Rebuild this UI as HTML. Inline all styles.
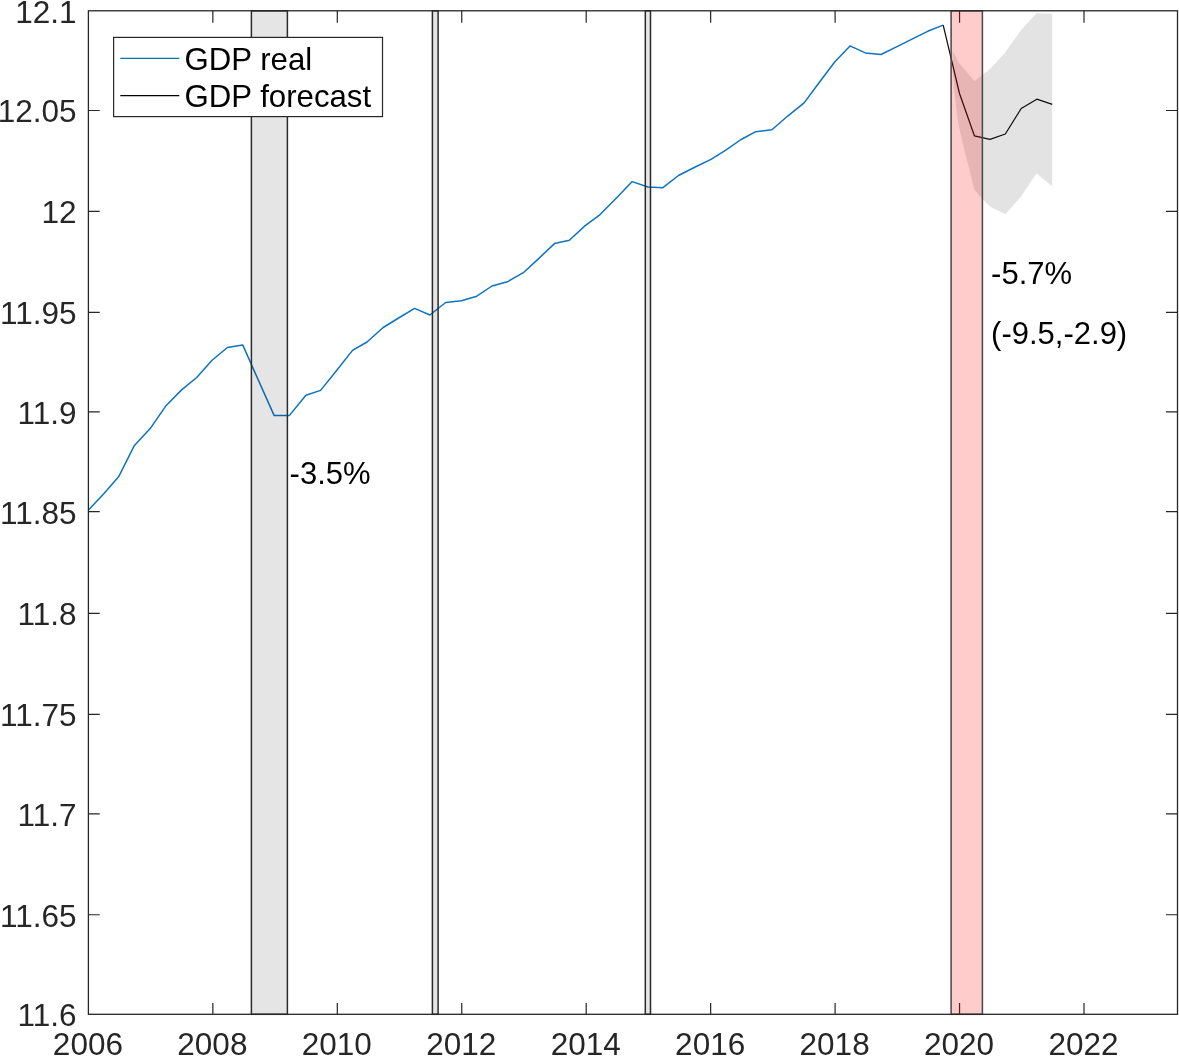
<!DOCTYPE html>
<html><head><meta charset="utf-8"><title>GDP forecast</title>
<style>
html,body{margin:0;padding:0;background:#fff;}
body{width:1179px;height:1057px;overflow:hidden;}
svg{display:block;}
text{font-family:"Liberation Sans",Arial,sans-serif;}
</style></head><body>
<svg width="1179" height="1057" viewBox="0 0 1179 1057">
<rect width="1179" height="1057" fill="#fff"/>
<path d="M88.4 110.50H99.7M1177.5 110.50H1165.9M88.4 211.45H99.7M1177.5 211.45H1165.9M88.4 312.40H99.7M1177.5 312.40H1165.9M88.4 411.90H99.7M1177.5 411.90H1165.9M88.4 511.60H99.7M1177.5 511.60H1165.9M88.4 613.30H99.7M1177.5 613.30H1165.9M88.4 714.30H99.7M1177.5 714.30H1165.9M88.4 813.80H99.7M1177.5 813.80H1165.9M88.4 914.76H99.7M1177.5 914.76H1165.9M212.85 1014.3V1002.9M212.85 10.8V22.7M337.30 1014.3V1002.9M337.30 10.8V22.7M461.75 1014.3V1002.9M461.75 10.8V22.7M586.20 1014.3V1002.9M586.20 10.8V22.7M710.65 1014.3V1002.9M710.65 10.8V22.7M835.10 1014.3V1002.9M835.10 10.8V22.7M959.55 1014.3V1002.9M959.55 10.8V22.7M1084.00 1014.3V1002.9M1084.00 10.8V22.7" stroke="#262626" stroke-width="1.2" fill="none"/>
<polyline points="88.3,510.2 104.0,493.5 118.6,476.8 134.4,445.4 150.2,428.6 165.5,406.3 181.6,389.9 196.7,377.5 211.8,360.5 227.4,347.5 242.7,344.9 258.3,380.0 274.2,415.6 289.3,415.6 305.9,395.3 320.6,390.4 336.0,371.3 352.5,350.4 367.0,342.0 383.2,327.5 398.6,318.0 414.6,308.4 429.9,315.0 445.7,302.5 461.5,300.7 476.8,296.2 492.0,286.0 507.4,281.8 523.3,272.7 538.6,258.6 554.5,243.6 569.3,240.2 585.2,225.6 599.8,214.8 616.0,198.5 632.2,181.6 647.9,187.0 662.9,187.7 678.5,175.5 694.2,167.5 711.0,159.4 725.8,150.2 741.1,139.5 755.8,131.7 771.9,129.8 788.0,115.8 804.1,102.9 819.4,82.2 834.7,62.0 850.0,45.9 865.4,52.9 881.0,54.5 896.5,46.8 912.0,39.2 927.7,31.3 943.2,25.1" fill="none" stroke="#0d73c0" stroke-width="1.5" stroke-linejoin="round"/>
<polyline points="943.2,25.1 959.5,93.5 974.4,135.8 990.0,139.4 1005.3,134.0 1021.2,108.5 1036.8,99.2 1052.3,104.4" fill="none" stroke="#111" stroke-width="1.25" stroke-linejoin="round"/>
<polygon points="952.6,51.0 958.9,62.7 974.5,81.1 990.0,69.0 1004.8,52.9 1021.1,30.0 1036.4,13.2 1052.2,13.7 1052.2,186.5 1036.6,173.2 1020.7,197.0 1005.4,214.3 990.2,206.8 983.4,200.0 974.5,190.0 970.8,175.7 966.1,156.8 961.4,137.8 957.5,119.0 955.9,105.0 954.2,88.0 952.8,71.0" fill="#000" fill-opacity="0.11" stroke="none"/>
<rect x="251.4" y="10.8" width="36.0" height="1003.5" fill="#000" fill-opacity="0.1" stroke="#2b2b2b" stroke-width="1.5"/>
<rect x="432.4" y="10.8" width="5.7" height="1003.5" fill="#000" fill-opacity="0.1" stroke="#2b2b2b" stroke-width="1.5"/>
<rect x="645.3" y="10.8" width="5.2" height="1003.5" fill="#000" fill-opacity="0.1" stroke="#2b2b2b" stroke-width="1.5"/>
<rect x="951.1" y="10.8" width="31.3" height="1003.5" fill="#ff0000" fill-opacity="0.2" stroke="#474747" stroke-width="1.5"/>
<rect x="88.4" y="10.8" width="1089.1" height="1003.5" fill="none" stroke="#262626" stroke-width="1.3"/>
<text transform="translate(76.50,22.70) scale(1,1.0)" font-size="31.5" fill="#262626" text-anchor="end">12.1</text>
<text transform="translate(76.50,122.40) scale(1,1.0)" font-size="31.5" fill="#262626" text-anchor="end">12.05</text>
<text transform="translate(76.50,223.35) scale(1,1.0)" font-size="31.5" fill="#262626" text-anchor="end">12</text>
<text transform="translate(76.50,324.30) scale(1,1.0)" font-size="31.5" fill="#262626" text-anchor="end">11.95</text>
<text transform="translate(76.50,423.80) scale(1,1.0)" font-size="31.5" fill="#262626" text-anchor="end">11.9</text>
<text transform="translate(76.50,523.50) scale(1,1.0)" font-size="31.5" fill="#262626" text-anchor="end">11.85</text>
<text transform="translate(76.50,625.20) scale(1,1.0)" font-size="31.5" fill="#262626" text-anchor="end">11.8</text>
<text transform="translate(76.50,726.20) scale(1,1.0)" font-size="31.5" fill="#262626" text-anchor="end">11.75</text>
<text transform="translate(76.50,825.70) scale(1,1.0)" font-size="31.5" fill="#262626" text-anchor="end">11.7</text>
<text transform="translate(76.50,926.66) scale(1,1.0)" font-size="31.5" fill="#262626" text-anchor="end">11.65</text>
<text transform="translate(76.50,1026.20) scale(1,1.0)" font-size="31.5" fill="#262626" text-anchor="end">11.6</text>
<text transform="translate(87.90,1054.70) scale(1,1.0)" font-size="31.5" fill="#262626" text-anchor="middle">2006</text>
<text transform="translate(212.35,1054.70) scale(1,1.0)" font-size="31.5" fill="#262626" text-anchor="middle">2008</text>
<text transform="translate(336.80,1054.70) scale(1,1.0)" font-size="31.5" fill="#262626" text-anchor="middle">2010</text>
<text transform="translate(461.25,1054.70) scale(1,1.0)" font-size="31.5" fill="#262626" text-anchor="middle">2012</text>
<text transform="translate(585.70,1054.70) scale(1,1.0)" font-size="31.5" fill="#262626" text-anchor="middle">2014</text>
<text transform="translate(710.15,1054.70) scale(1,1.0)" font-size="31.5" fill="#262626" text-anchor="middle">2016</text>
<text transform="translate(834.60,1054.70) scale(1,1.0)" font-size="31.5" fill="#262626" text-anchor="middle">2018</text>
<text transform="translate(959.05,1054.70) scale(1,1.0)" font-size="31.5" fill="#262626" text-anchor="middle">2020</text>
<text transform="translate(1083.50,1054.70) scale(1,1.0)" font-size="31.5" fill="#262626" text-anchor="middle">2022</text>
<rect x="113.6" y="37.4" width="268.9" height="79.2" fill="#fff" stroke="#262626" stroke-width="1.2"/>
<path d="M120.3 58.3H179.3" stroke="#0072bd" stroke-width="1.3"/>
<path d="M120.3 95.7H179.3" stroke="#000" stroke-width="1.3"/>
<text transform="translate(184.50,70.30) scale(1,1.0)" font-size="31.2" fill="#000" text-anchor="start">GDP real</text>
<text transform="translate(184.50,107.40) scale(1,1.0)" font-size="31.2" fill="#000" text-anchor="start">GDP forecast</text>
<text transform="translate(289.60,484.00) scale(1,1.0)" font-size="31" fill="#000" text-anchor="start">-3.5%</text>
<text transform="translate(991.10,283.90) scale(1,1.0)" font-size="31" fill="#000" text-anchor="start">-5.7%</text>
<text transform="translate(991.10,343.90) scale(1,1.0)" font-size="31" fill="#000" text-anchor="start">(-9.5,-2.9)</text>
</svg></body></html>
